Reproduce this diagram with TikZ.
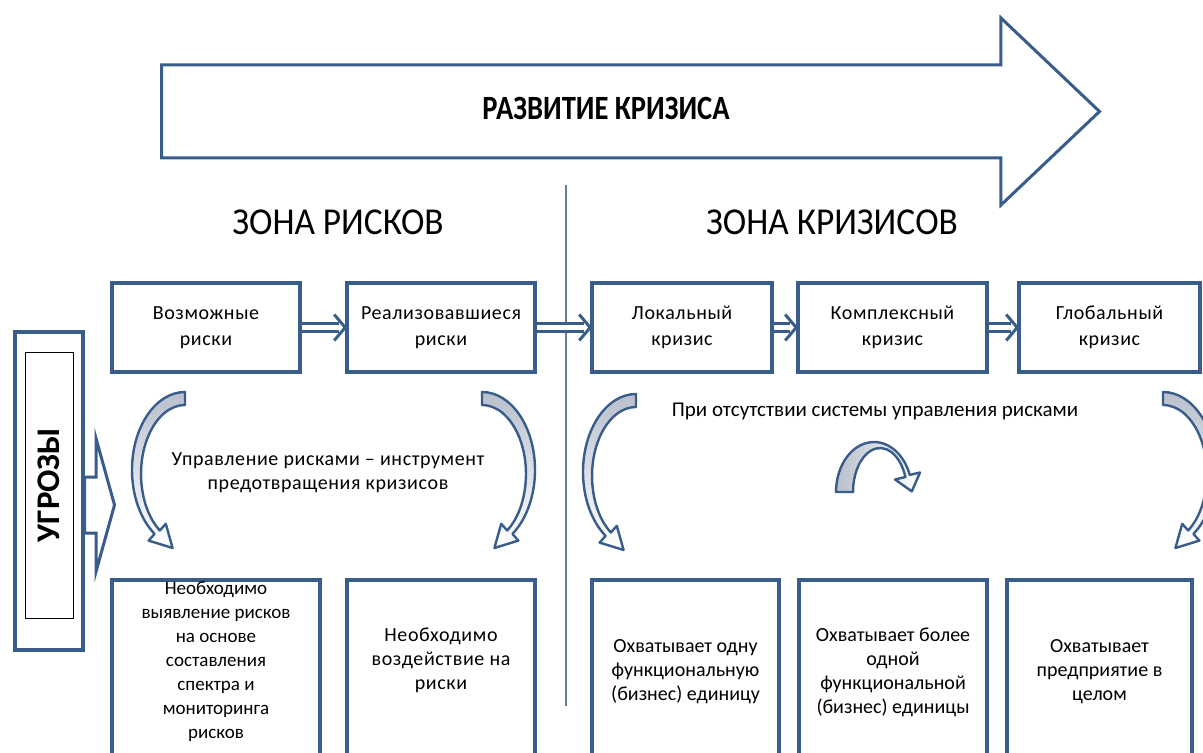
\documentclass[tikz,border=0pt]{standalone}
\usepackage{fontspec}
\setmainfont{Carlito}
\newfontfamily\wideface[LetterSpace=3]{Carlito}
\newfontfamily\narrowface[FakeStretch=0.84]{Carlito}
\newfontfamily\zoneface[FakeStretch=0.93]{Carlito}
\usetikzlibrary{shapes.arrows}

\definecolor{frameblue}{RGB}{56,93,138}
\definecolor{curlfill}{RGB}{185,192,204}
\definecolor{zoneline}{RGB}{95,125,160}

\tikzset{
  riskbox/.style={draw=frameblue, line width=1.8pt, minimum height=44.5pt, inner sep=0pt,
    align=center, font=\wideface\fontsize{10}{13}\selectfont},
  lowbox/.style={draw=frameblue, line width=1.8pt, minimum height=110pt, anchor=north},
  lowtext/.style={align=center, inner sep=0pt, font=\fontsize{10}{12}\selectfont},
  flow/.style={draw=frameblue, line width=1.3pt, double=white, double distance=2.5pt, shorten >=3pt},
  flowtip/.style={draw=frameblue, line width=1.5pt, line join=miter},
  curl/.style={draw=frameblue, line width=1.2pt, line join=round},
  zonetitle/.style={font=\zoneface\fontsize{19}{22}\selectfont},
}

\newcommand\riskcurl{(0,-78) arc[start angle=270, end angle=125, x radius=53, y radius=78]
  -- (-36.4,70.6) -- (-12.4,78) -- (-19.2,53.8) -- (-25.2,60.5)
  arc[start angle=125, end angle=270, x radius=44, y radius=69] -- cycle}

\begin{document}
\begin{tikzpicture}[x=0.5pt, y=-0.5pt]
  \useasboundingbox (0,0) rectangle (1203,753);
  \clip (0,0) rectangle (1203,753);

  \node[single arrow, draw=frameblue, line width=1.5pt, anchor=tail,
    minimum height=469pt, single arrow head extend=23.5pt, single arrow tip angle=87,
    inner xsep=0pt, inner ysep=16.5pt, text height=10pt, text depth=2pt,
    font=\narrowface\bfseries\fontsize{17}{20}\selectfont] (dev) at (160,111.5) {РАЗВИТИЕ КРИЗИСА};

  \draw[zoneline, line width=0.8pt] (566,185) -- (566,706);
  \node[zonetitle] (zr) at (338,222) {ЗОНА РИСКОВ};
  \node[zonetitle] (zk) at (832,222) {ЗОНА КРИЗИСОВ};

  \node[riskbox, minimum width=94pt] (pos) at (206,327.5) {Возможные\\риски};
  \node[riskbox, minimum width=94pt] (real) at (441,327.5) {Реализовавшиеся\\риски};
  \node[riskbox, minimum width=90pt] (loc) at (682,327.5) {Локальный\\кризис};
  \node[riskbox, minimum width=94.5pt] (comp) at (892.5,327.5) {Комплексный\\кризис};
  \node[riskbox, minimum width=90.5pt] (glob) at (1109.5,327.5) {Глобальный\\кризис};

  \foreach \a/\b in {pos/real, real/loc, loc/comp, comp/glob} {
    \draw[flow] (\a) -- (\b);
    \draw[flowtip] ([xshift=-5.5pt, yshift=6.5pt]\b.west) -- (\b.west) -- ([xshift=-5.5pt, yshift=-6.5pt]\b.west);
  }

  \node[lowbox, minimum width=104pt] (find) at (216,578) {};
  \node[lowbox, minimum width=94pt] (act) at (441,578) {};
  \node[lowbox, minimum width=93.5pt] (one) at (685.5,578) {};
  \node[lowbox, minimum width=94pt] (more) at (893,578) {};
  \node[lowbox, minimum width=92.5pt] (whole) at (1099.5,578) {};

  \node[lowtext, font=\fontsize{9.5}{12}\selectfont] (findt) at (216,662)
    {Необходимо\\выявление рисков\\на основе\\составления\\спектра и\\мониторинга\\рисков};
  \node[lowtext, font=\wideface\fontsize{10}{12}\selectfont] (actt) at (441,660)
    {Необходимо\\воздействие на\\риски};
  \node[lowtext] (onet) at (685.5,672) {Охватывает одну\\функциональную\\(бизнес) единицу};
  \node[lowtext] (moret) at (893,672) {Охватывает более\\одной\\функциональной\\(бизнес) единицы};
  \node[lowtext] (wholet) at (1099.5,672) {Охватывает\\предприятие в\\целом};

  \node[draw=frameblue, line width=2pt, minimum width=34pt, minimum height=159pt] (thr) at (49,491) {};
  \node[draw=black, line width=0.5pt, minimum width=24pt, minimum height=133pt, inner sep=0pt] (thrin) at (49,485)
    {\rotatebox{90}{\bfseries\fontsize{16.5}{18}\selectfont УГРОЗЫ}};
  \node[single arrow, draw=frameblue, fill=white, line width=1.5pt, anchor=tail,
    minimum height=15pt, inner xsep=0pt, inner ysep=13.25pt, text height=0pt, text depth=0pt,
    single arrow head extend=19.25pt, single arrow tip angle=149] (push) at (83,505) {};

  \begin{scope}[shift={(185,470)}]
    \draw[curl, top color=curlfill, bottom color=white] \riskcurl;
  \end{scope}
  \begin{scope}[shift={(482,470)}, xscale=-1]
    \draw[curl, top color=curlfill, bottom color=white] \riskcurl;
  \end{scope}
  \begin{scope}[shift={(636,472)}]
    \draw[curl, top color=curlfill, bottom color=white] \riskcurl;
  \end{scope}
  \begin{scope}[shift={(1163,470)}, xscale=-1]
    \draw[curl, top color=curlfill, bottom color=white] \riskcurl;
  \end{scope}

  \draw[curl, left color=curlfill, right color=white] (836,492)
    arc[start angle=180, end angle=340, x radius=38, y radius=50]
    -- (920,472.5) -- (911.8,491.4) -- (895,479.5) -- (905.4,477)
    arc[start angle=340, end angle=180, x radius=27, y radius=44] -- cycle;

  \node[align=center, font=\wideface\fontsize{10}{12}\selectfont] (tool) at (328,473)
    {Управление рисками – инструмент\\предотвращения кризисов};
  \node[font=\fontsize{10.5}{12}\selectfont] (nosys) at (875,411) {При отсутствии системы управления рисками};
\end{tikzpicture}
\end{document}
